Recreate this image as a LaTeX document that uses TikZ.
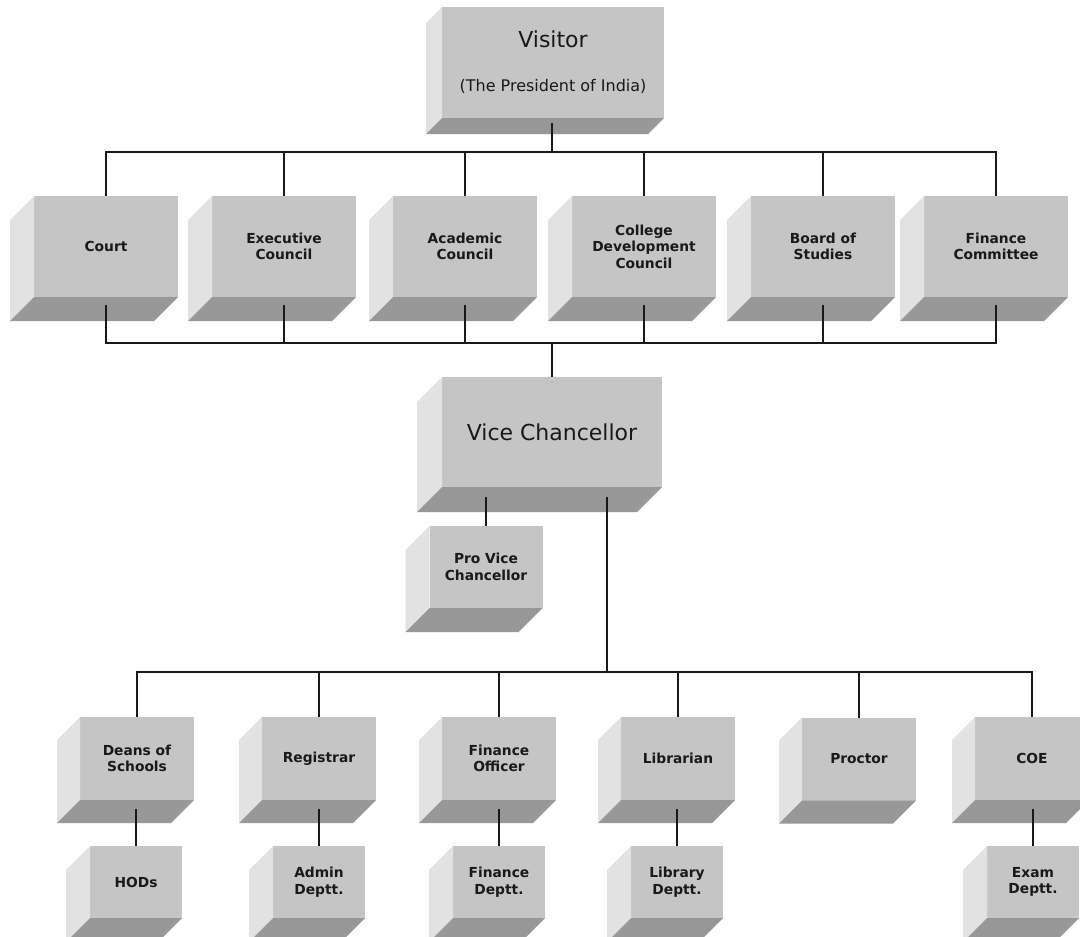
\documentclass[tikz,border=0pt]{standalone}
\usepackage{fontspec}
\setmainfont{DejaVu Sans}
\usetikzlibrary{calc}
\definecolor{frontc}{RGB}{197,197,197}
\definecolor{leftc}{RGB}{226,226,226}
\definecolor{bottomc}{RGB}{152,152,152}
\definecolor{linec}{RGB}{25,25,25}
\tikzset{
  front/.style={fill=frontc, inner sep=0pt, outer sep=0pt, align=center, text=black!90},
  smalltxt/.style={font=\bfseries\fontsize{13.8}{16.5}\selectfont},
  leftface/.style={fill=leftc},
  bottomface/.style={fill=bottomc},
  conn/.style={draw=linec, line width=1.4pt}
}
% name, cx, cy, w, h, depth, text, style
\newcommand\ocbox[8]{%
  \node[front, #8, minimum width=#4pt, minimum height=#5pt] (#1) at (#2,#3) {#7};
  \fill[leftface] (#1.north west) -- ++(-#6,#6) -- ++(0,#5) -- (#1.south west) -- cycle;
  \fill[bottomface] (#1.south west) -- ++(-#6,#6) -- ++(#4,0) -- (#1.south east) -- cycle;
}
\begin{document}
\begin{tikzpicture}[x=1pt, y=-1pt]
\useasboundingbox (0,0) rectangle (1080,937);
\clip (0,0) rectangle (1080,937);
\fill[white] (0,0) rectangle (1080,937);

% top
\ocbox{visitor}{553}{62.5}{222}{111}{16}{{\fontsize{22}{44}\selectfont Visitor}\\(The President of India)}{font=\fontsize{16}{44}\selectfont}

% councils
\ocbox{court}{106}{246.5}{144}{101}{24}{Court}{smalltxt}
\ocbox{exec}{284}{246.5}{144}{101}{24}{Executive\\Council}{smalltxt}
\ocbox{acad}{465}{246.5}{144}{101}{24}{Academic\\Council}{smalltxt}
\ocbox{cdc}{644}{246.5}{144}{101}{24}{College\\Development\\Council}{smalltxt}
\ocbox{bos}{823}{246.5}{144}{101}{24}{Board of\\Studies}{smalltxt}
\ocbox{fc}{996}{246.5}{144}{101}{24}{Finance\\Committee}{smalltxt}

% vice chancellor
\ocbox{vc}{552}{432}{220}{110}{25}{Vice Chancellor}{font=\fontsize{22}{26}\selectfont}
\ocbox{pvc}{486}{567}{113}{82}{24}{Pro Vice\\Chancellor}{smalltxt}

% officers
\ocbox{deans}{137}{758.5}{114}{83}{23}{Deans of\\Schools}{smalltxt}
\ocbox{reg}{319}{758.5}{114}{83}{23}{Registrar}{smalltxt}
\ocbox{fo}{499}{758.5}{114}{83}{23}{Finance\\Officer}{smalltxt}
\ocbox{lib}{678}{758.5}{114}{83}{23}{Librarian}{smalltxt}
\ocbox{proc}{859}{759}{114}{83}{23}{Proctor}{smalltxt}
\ocbox{coe}{1032}{758.5}{114}{83}{23}{COE}{smalltxt}

% departments
\ocbox{hods}{136}{882}{92}{72}{24}{HODs}{smalltxt}
\ocbox{admin}{319}{882}{92}{72}{24}{Admin\\Deptt.}{smalltxt}
\ocbox{find}{499}{882}{92}{72}{24}{Finance\\Deptt.}{smalltxt}
\ocbox{libd}{677}{882}{92}{72}{24}{Library\\Deptt.}{smalltxt}
\ocbox{exam}{1033}{882}{92}{72}{24}{Exam\\Deptt.}{smalltxt}

% connectors: visitor -> councils
\coordinate (vbus) at ($(visitor.south)+(-1,34)$);
\draw[conn] ($(visitor.south)+(-1,5)$) -- (vbus);
\foreach \n in {court,exec,acad,cdc,bos,fc} \draw[conn] (vbus) -| (\n.north);

% councils -> vice chancellor
\coordinate (cbus) at ($(vc.north)+(0,-34)$);
\draw[conn] (cbus) -- (vc.north);
\foreach \n in {court,exec,acad,cdc,bos,fc} \draw[conn] ($(\n.south)+(0,8)$) |- (cbus);

% vice chancellor -> pro vice chancellor
\draw[conn] ($(pvc.north |- vc.south)+(0,10)$) -- (pvc.north);

% vice chancellor -> officers
\coordinate (obus) at ($(vc.south)+(55,185)$);
\draw[conn] ($(vc.south)+(55,10)$) -- (obus);
\foreach \n in {deans,reg,fo,lib,proc,coe} \draw[conn] (obus) -| (\n.north);

% officers -> departments
\draw[conn] ($(hods.north |- deans.south)+(0,9)$) -- (hods.north);
\draw[conn] ($(admin.north |- reg.south)+(0,9)$) -- (admin.north);
\draw[conn] ($(find.north |- fo.south)+(0,9)$) -- (find.north);
\draw[conn] ($(libd.north |- lib.south)+(0,9)$) -- (libd.north);
\draw[conn] ($(exam.north |- coe.south)+(0,9)$) -- (exam.north);
\end{tikzpicture}
\end{document}
